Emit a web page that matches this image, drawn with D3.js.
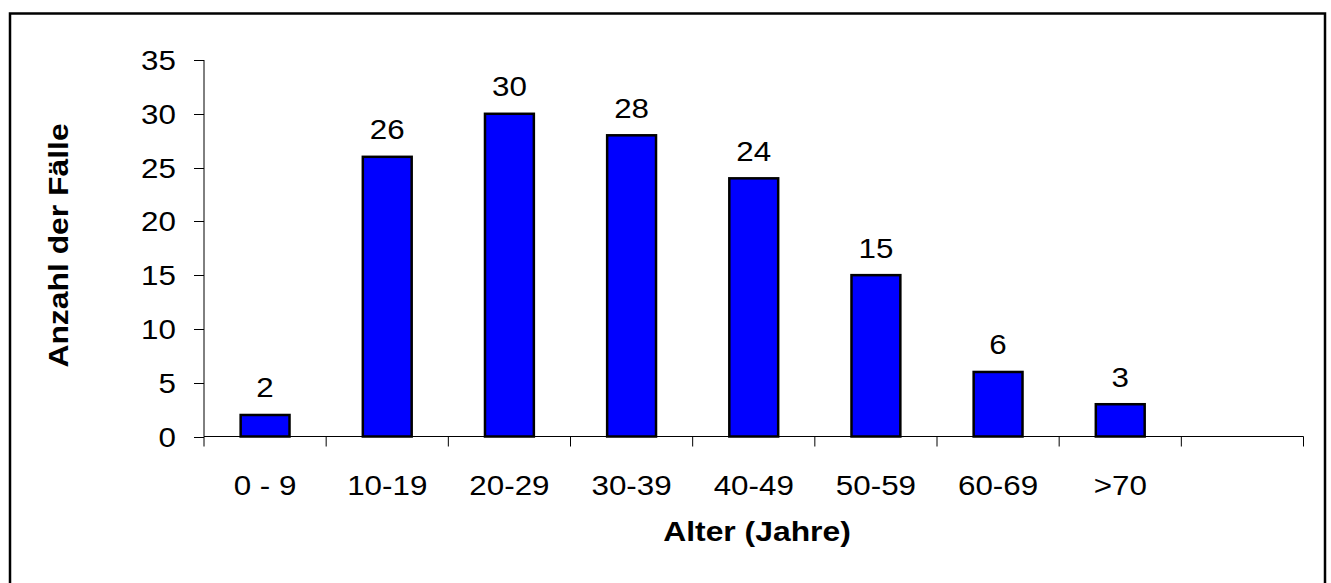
<!DOCTYPE html>
<html>
<head>
<meta charset="utf-8">
<script src="https://cdn.jsdelivr.net/npm/d3@7"></script>
<style>
  html, body { margin: 0; padding: 0; background: #fff; }
  svg { display: block; font-family: Arial, 'Liberation Sans', sans-serif; }
</style>
</head>
<body>
<svg id="chart" width="1331" height="583"></svg>
<script>
// data
const categories = ['0 - 9', '10-19', '20-29', '30-39', '40-49', '50-59', '60-69', '>70']
const counts = [2, 26, 30, 28, 24, 15, 6, 3]
const yTicks = [0, 5, 10, 15, 20, 25, 30, 35]
const xTitle = 'Alter (Jahre)'
const yTitle = 'Anzahl der Fälle'

const H = 583
// text in the original looks a bit stretched along its baseline
const stretch = 1.12
const fontSize = 28

const svg = d3.select('#chart')

// outer frame (bottom edge runs off the picture)
svg.append('rect')
  .attr('x', 10).attr('y', 13.5)
  .attr('width', 1315).attr('height', H)
  .attr('fill', 'none')
  .attr('stroke', '#000')
  .attr('stroke-width', 2.5)

const plot = { left: 204, right: 1303.5, top: 60, bottom: 436.5 }

// one empty slot after the last class, as in the original
const slots = categories.concat([''])
const x = d3.scaleBand()
  .domain(slots.map((d, i) => i))
  .range([plot.left, plot.right])
  .paddingInner(0)
  .paddingOuter(0)

const y = d3.scaleLinear()
  .domain([0, 35])
  .range([plot.bottom, plot.top])

const barW = x.bandwidth() * 0.4

// y axis
const yAxis = svg.append('g')
yAxis.append('line')
  .attr('x1', plot.left).attr('x2', plot.left)
  .attr('y1', y(35)).attr('y2', y(0))
  .attr('stroke', '#000')
yAxis.selectAll('.tk')
  .data(yTicks)
  .join('line')
  .attr('class', 'tk')
  .attr('x1', plot.left - 10).attr('x2', plot.left)
  .attr('y1', d => Math.round(y(d)) + 0.5).attr('y2', d => Math.round(y(d)) + 0.5)
  .attr('stroke', '#000')
yAxis.selectAll('text')
  .data(yTicks)
  .join('text')
  .attr('transform', d => `translate(${plot.left - 28},${y(d) + 10}) scale(${stretch},1)`)
  .attr('text-anchor', 'end')
  .attr('font-size', fontSize)
  .attr('fill', '#000')
  .text(d => d)

// x axis with ticks on the slot boundaries
const xAxis = svg.append('g')
xAxis.append('line')
  .attr('x1', plot.left).attr('x2', plot.right)
  .attr('y1', y(0)).attr('y2', y(0))
  .attr('stroke', '#000')
const bounds = d3.range(slots.length + 1).map(i => plot.left + i * x.step())
xAxis.selectAll('.tk')
  .data(bounds)
  .join('line')
  .attr('class', 'tk')
  .attr('x1', d => d).attr('x2', d => d)
  .attr('y1', y(0)).attr('y2', y(0) + 10)
  .attr('stroke', '#000')
xAxis.selectAll('text')
  .data(categories)
  .join('text')
  .attr('transform', (d, i) => `translate(${x(i) + x.bandwidth() / 2},495) scale(${stretch},1)`)
  .attr('text-anchor', 'middle')
  .attr('font-size', fontSize)
  .attr('fill', '#000')
  .text(d => d)

// bars
svg.append('g')
  .selectAll('rect')
  .data(counts)
  .join('rect')
  .attr('x', (d, i) => x(i) + (x.bandwidth() - barW) / 2)
  .attr('y', d => y(d))
  .attr('width', barW)
  .attr('height', d => y(0) - y(d))
  .attr('fill', '#0000ff')
  .attr('stroke', '#000')
  .attr('stroke-width', 2.5)

// value labels
svg.append('g')
  .selectAll('text')
  .data(counts)
  .join('text')
  .attr('transform', (d, i) => `translate(${x(i) + x.bandwidth() / 2},${y(d) - 17.5}) scale(${stretch},1)`)
  .attr('text-anchor', 'middle')
  .attr('font-size', fontSize)
  .attr('fill', '#000')
  .text(d => d)

// axis titles
svg.append('text')
  .attr('transform', `translate(757,541) scale(1.18,1)`)
  .attr('text-anchor', 'middle')
  .attr('font-size', 27)
  .attr('font-weight', 'bold')
  .text(xTitle)

svg.append('text')
  .attr('transform', `translate(68,245.5) rotate(-90) scale(1.18,1)`)
  .attr('text-anchor', 'middle')
  .attr('font-size', 27)
  .attr('font-weight', 'bold')
  .text(yTitle)
</script>
</body>
</html>
